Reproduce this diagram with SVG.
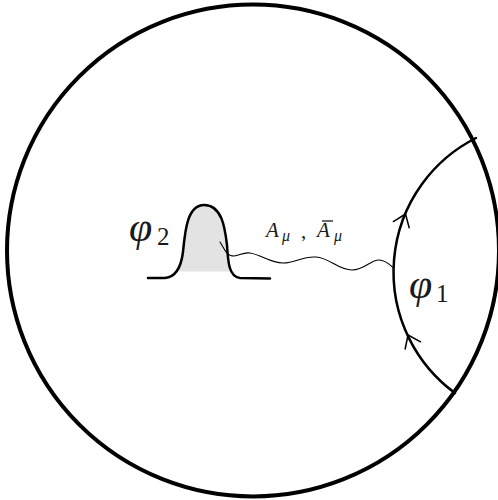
<svg xmlns="http://www.w3.org/2000/svg" xmlns:xlink="http://www.w3.org/1999/xlink" width="498" height="500" viewBox="0 0 498 500">
<style>
.ln{fill:none;stroke:#000;stroke-linecap:round;stroke-linejoin:round}
.math{font-family:"Liberation Serif","DejaVu Serif",serif;fill:#1a1a1a}
.it{font-style:italic}
</style>
<defs>
<clipPath id="clipFill"><rect x="0" y="0" width="498" height="271.5"/></clipPath>
<path id="chev" d="M-8.5,11.5 L0,0 L8.5,11.5" class="ln" style="stroke-width:1.5"/>
</defs>
<g id="boundary">
<circle cx="253" cy="250.5" r="246" class="ln" style="stroke-width:4"/>
</g>
<g id="phi1-region">
<path d="M476,138 A150,150 0 0,0 455,393" class="ln" style="stroke-width:2.5"/>
<use xlink:href="#chev" transform="translate(405.5,214) rotate(21.5)"/>
<use xlink:href="#chev" transform="translate(408,335) rotate(-25)"/>
<text class="math it" x="409" y="298" font-size="42">φ</text>
<text class="math" x="436" y="302" font-size="25">1</text>
</g>
<g id="phi2-bump">
<path d="M165,278 C176,277 181,268 183,252 C185,232 187,205 204,205 C222,205 225,228 227,245 C228,262 229,277 240,278 Z" fill="#e3e3e3" stroke="none" clip-path="url(#clipFill)"/>
<path d="M148,278 L165,278 C176,277 181,268 183,252 C185,232 187,205 204,205 C222,205 225,228 227,245 C228,262 229,277 240,278 L270,278.5" class="ln" style="stroke-width:2.5"/>
<text class="math it" x="129" y="241" font-size="42">φ</text>
<text class="math" x="157" y="245" font-size="25">2</text>
</g>
<g id="connectors">
<path d="M220,242 C224,248 226,256 234,256 C240,255 244,252 250,253 C262,255 270,263 283,263 C296,263 302,256 316,257 C330,258 338,270 352,270 C365,270 370,260 379,260 C386,260 390,265 393.5,268" class="ln" style="stroke-width:1.1"/>
</g>
<g id="label-A">
<text class="math it" x="266" y="237" font-size="21">A</text>
<text class="math it" x="282" y="241" font-size="16">μ</text>
<text class="math" x="301" y="238" font-size="21">,</text>
<text class="math it" x="317" y="237" font-size="21">A</text>
<line x1="322" y1="221" x2="333" y2="221" stroke="#1a1a1a" stroke-width="1.3"/>
<text class="math it" x="334" y="241" font-size="16">μ</text>
</g>
</svg>
